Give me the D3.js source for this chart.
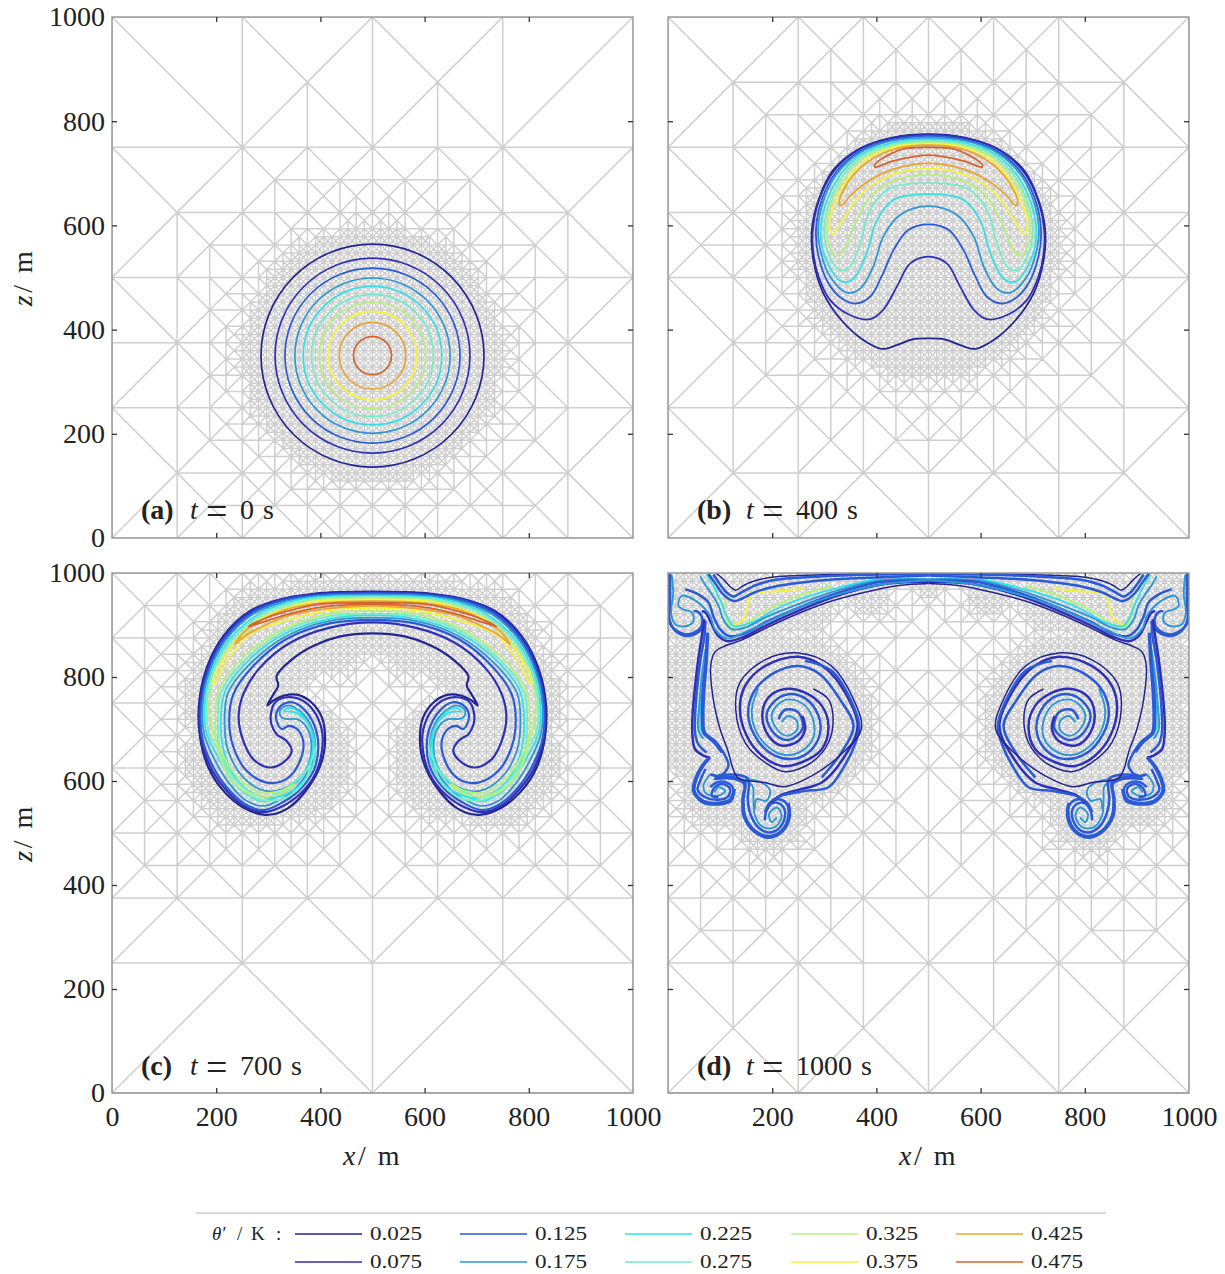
<!DOCTYPE html>
<html>
<head>
<meta charset="utf-8">
<script src="https://cdnjs.cloudflare.com/ajax/libs/d3/7.8.5/d3.min.js"></script>
<style>
  body { margin: 0; background: #fff; }
  text { font-family: "Liberation Serif", serif; fill: #222; }
</style>
</head>
<body>
<svg id="fig" width="1225" height="1274"></svg>
<script>
// contour levels and colours
const levels = [0.025, 0.075, 0.125, 0.175, 0.225, 0.275, 0.325, 0.375, 0.425, 0.475];
const levelColors = ["#24248f", "#2f2fb8", "#2a5ad6", "#2c96d6", "#34e0e6", "#74eec8", "#b6f07c", "#f4f43c", "#eaa432", "#d4642f"];

const xTicks = [0, 200, 400, 600, 800, 1000];
const zTicks = [0, 200, 400, 600, 800, 1000];
const panelTitles = [["(a)", "0"], ["(b)", "400"], ["(c)", "700"], ["(d)", "1000"]];

// (a) t = 0: circles round one centre
const centreA = [500, 350];
const radiiA = [214, 187, 168, 149, 133, 117, 102, 85, 64, 36.5];

// (b) t = 400: left halves, mirrored about x = 500
const b025 = [[500,775],[433,769],[369,748],[317,706],[289,649],[276,591],[279,534],[298,470],[333,418],[375,380],[410,363],[439,370],[468,381],[500,383]];
const b075 = [[500,774],[433,768],[369,747],[319,705],[290,649],[278,591],[279,546],[289,502],[311,457],[349,428],[388,420],[413,438],[439,482],[465,527],[500,540]];
const b125 = [[500,772],[433,765],[369,743],[323,703],[295,649],[284,591],[289,540],[308,489],[333,460],[359,450],[388,463],[410,502],[433,553],[461,591],[500,602]];
const b175 = [[500,768],[433,763],[369,740],[325,700],[298,646],[288,591],[294,546],[311,502],[343,471],[369,479],[394,521],[413,578],[445,620],[500,637]];
const b225 = [[500,765],[433,759],[372,737],[329,695],[303,642],[293,591],[301,540],[333,492],[356,498],[381,546],[401,610],[433,649],[500,660]];
const b275 = [[500,762],[433,756],[375,734],[333,692],[308,639],[300,591],[308,546],[330,514],[349,521],[369,566],[388,630],[426,671],[500,681]];
const b325 = [[500,759],[433,752],[378,731],[337,688],[311,636],[305,591],[311,556],[324,541],[338,553],[359,604],[391,658],[439,688],[500,697]];
const b375 = [[500,757],[433,750],[381,727],[342,684],[317,633],[310,604],[316,583],[337,613],[369,658],[413,690],[458,705],[500,709]];
const b425 = [[500,754],[433,746],[388,725],[356,697],[335,665],[329,645],[332,638],[353,660],[388,687],[433,708],[500,719]];
const b475 = [[500,750],[452,747],[423,735],[397,717],[397,712],[433,724],[500,735]];

// (c) t = 700: left halves, mirrored about x = 500
const c025 = [[500,964],[387,960],[322,949],[265,927],[214,879],[182,818],[167,748],[169,684],[185,626],[214,581],[252,549],[294,535],[335,546],[377,588],[403,639],[409,684],[403,722],[383,751],[355,766],[329,764],[310,755],[298,745],[310,767],[319,783],[316,802],[342,831],[387,860],[438,878],[500,884]];
const c075 = [[500,905],[418,895],[342,866],[284,818],[252,767],[243,722],[252,677],[271,642],[303,626],[329,636],[345,658],[335,677],[316,690],[306,709],[305,729],[313,751],[335,761],[361,757],[387,735],[403,697],[403,658],[390,613],[361,575],[322,549],[290,540],[252,553],[217,585],[188,629],[171,684],[169,748],[184,817],[215,878],[266,926],[322,948],[387,959],[500,963]];
const c125 = [[500,910],[418,903],[335,873],[271,821],[233,767],[225,716],[233,665],[258,620],[297,597],[335,604],[361,639],[367,677],[355,700],[339,706],[326,700],[316,716],[316,732],[329,748],[348,751],[371,735],[390,703],[396,665],[387,620],[358,581],[322,556],[290,544],[255,556],[220,588],[191,633],[173,684],[171,748],[186,815],[218,876],[268,923],[322,946],[387,957],[500,961]];
const c175 = [[500,914],[418,908],[335,879],[268,828],[223,770],[216,716],[223,658],[252,607],[294,581],[335,588],[371,620],[383,665],[374,703],[355,719],[339,719],[326,722],[322,735],[335,745],[351,741],[377,716],[390,671],[380,626],[351,585],[319,562],[290,552],[258,562],[226,594],[198,639],[177,690],[174,748],[188,813],[220,873],[271,921],[326,943],[387,955],[500,959]];
const c225 = [[500,919],[418,912],[335,885],[262,832],[217,773],[209,716],[216,652],[244,597],[290,569],[335,575],[374,607],[390,658],[377,709],[351,732],[330,734],[337,740],[355,736],[380,703],[385,658],[372,620],[345,588],[316,569],[290,561],[262,572],[230,601],[204,645],[182,690],[178,748],[191,810],[223,869],[275,917],[326,940],[387,953],[500,956]];
const c275 = [[500,922],[418,917],[335,890],[259,836],[210,773],[203,716],[210,649],[239,591],[290,563],[335,569],[371,601],[383,639],[392,665],[377,626],[345,594],[316,575],[290,569],[265,578],[233,607],[209,652],[187,690],[182,748],[194,808],[226,866],[278,914],[329,937],[387,950],[500,954]];
const c325 = [[500,927],[418,922],[335,895],[255,841],[206,776],[198,716],[206,649],[236,594],[281,572],[322,574],[351,594],[322,581],[284,578],[239,610],[210,655],[193,697],[186,748],[198,805],[230,863],[281,911],[332,933],[387,947],[500,951]];
const c375 = [[500,949],[387,945],[335,931],[284,910],[233,862],[201,812],[193,789],[198,789],[217,825],[265,882],[335,909],[418,928],[500,933]];
const c425 = [[500,946],[399,942],[335,930],[284,908],[252,885],[236,863],[255,879],[297,901],[342,919],[418,932],[500,937]];
const c475 = [[500,943],[399,940],[335,926],[290,911],[262,897],[297,908],[342,922],[406,935],[500,940]];

// (d) t = 1000: open pieces on the left, mirrored about x = 500; [level index, points]
const d025 = [[500,980],[442,976],[378,963],[314,946],[250,922],[186,893],[141,871],[110,860],[90,848],[82,821],[87,757],[100,700],[116,655],[125,623],[136,605],[186,597],[222,589],[276,610],[333,652],[371,700],[356,757],[314,821],[250,846],[186,833],[138,789],[130,738],[148,674],[186,636],[225,618],[276,636],[308,674],[317,719],[308,757],[279,777]];
const d075 = [[258,725],[263,700],[250,677],[218,668],[193,687],[181,725],[193,761],[225,777],[263,770],[295,745],[308,706],[295,661],[257,636],[218,629],[180,649],[151,687],[138,738],[148,783],[186,821],[250,839],[301,818],[340,770],[364,706],[340,649],[295,597],[250,583],[215,572],[199,559]];
const d125 = [[212,719],[225,737],[250,732],[258,700],[231,679],[205,690],[189,725],[205,754],[231,767],[266,757],[289,725],[292,693],[276,661],[244,643],[205,649],[173,677],[154,725],[164,770],[199,805],[250,821],[292,805],[330,757],[356,706],[333,655],[295,607]];
const d175 = [[218,713],[231,725],[247,716],[247,697],[228,687],[209,700],[199,725],[212,748],[234,757],[263,745],[279,716],[279,684],[257,658],[225,650],[193,665],[167,700],[161,738],[173,777]];
const dRing = [[199,562],[218,572],[263,581],[308,588],[337,626],[360,674],[367,706],[353,751],[314,812],[263,831]];
const dHeadOuter = [[2,999],[2,949],[1,908],[14,891],[39,882],[61,893],[66,911],[58,925],[49,927]];
const dHeadEdge = [[4,999],[4,949],[3,910],[15,888],[39,879],[63,890],[69,911]];
const dHeadInner = [[7,997],[10,959],[6,924],[14,901],[36,898],[49,908],[46,924],[29,930],[20,937],[26,956],[58,943],[81,917],[90,892],[113,874],[154,889],[250,933],[327,959],[410,978],[500,986]];
const dPlume075 = [[500,983],[410,978],[327,957],[250,927],[186,898],[145,877],[113,869],[94,882],[81,908],[72,924],[65,927]];
const dPlume125 = [[500,985],[410,983],[327,962],[250,933],[186,905],[145,883],[116,879],[100,892],[87,917],[78,943],[58,959],[33,969]];
const dPlume175 = [[500,988],[410,986],[327,967],[250,940],[186,914],[148,895],[122,892],[106,911],[97,937],[84,959],[71,978],[62,994]];
const dPlume225 = [[410,990],[327,972],[263,953],[212,933],[161,905],[126,898],[113,917],[100,949],[87,975],[74,997]];
const dPlume325 = [[314,975],[250,956],[186,927],[148,901],[122,895],[110,921],[110,949],[90,981]];
const dPlume375 = [[260,970],[212,965],[161,959],[153,937],[145,911],[122,899]];
const dUpper025 = [[410,999],[308,997],[199,992],[167,985],[145,976],[130,967],[119,974],[106,988],[93,999]];
const dUpper075 = [[500,998],[410,997],[308,994],[206,987],[167,976],[138,961],[126,955],[113,962],[100,978],[87,997]];
const dUpper125 = [[500,995],[410,992],[308,987],[206,974],[167,963],[138,949],[126,946],[106,959],[90,981],[77,999]];
const dStemA = [[70,911],[66,885],[58,834],[52,783],[47,725],[47,687],[52,661],[68,649],[81,645]];
const dStemB = [[72,908],[70,879],[62,831],[56,780],[52,725],[52,693],[58,671],[74,655]];
const dStemC = [[77,885],[74,828],[70,777],[68,725],[71,693],[90,677],[106,655],[116,629],[100,610],[81,613]];
const dStemD = [[72,853],[65,802],[60,745],[58,700],[68,681]];
const dStemE = [[74,868],[68,805],[63,745],[61,705],[72,686]];
const dStemF = [[75,885],[72,828],[67,777],[65,725],[68,693],[87,675],[103,655]];
const dFootA = [[81,645],[68,629],[55,604],[51,581],[68,562],[97,558],[119,565],[125,585],[113,597],[93,597],[81,588]];
const dFootB = [[72,623],[62,601],[57,583],[71,569],[97,564],[115,570],[119,585],[106,594],[90,588],[84,572],[97,569]];
const dFootC = [[81,613],[68,591],[74,575],[97,572],[110,581],[97,588],[89,578]];
const dFootD = [[78,645],[64,628],[52,604],[48,581],[66,559],[97,555],[121,562],[128,585]];
const dToeA = [[90,607],[129,607],[148,597],[145,565],[148,533],[167,505],[193,494],[218,505],[231,533],[228,556],[212,565],[196,559],[186,540]];
const dToeB = [[97,611],[132,612],[154,604],[153,565],[158,537],[173,511],[193,501],[215,511],[225,537],[218,554],[202,558],[189,543],[186,524]];
const dToeC = [[141,601],[162,591],[164,565],[167,533],[183,511],[205,511],[218,533],[209,549],[194,536],[199,521],[209,530]];
const dToeD = [[148,604],[180,597],[196,581],[189,562],[170,565],[167,546]];
const dToeE = [[88,604],[127,604],[146,595],[143,565],[145,533],[165,503],[193,491],[220,503],[234,533],[231,558]];
const dLines = [
  [7, dPlume375], [6, dPlume325], [4, dPlume225], [3, dPlume175], [2, dPlume125], [1, dPlume075],
  [3, dHeadInner], [2, dHeadEdge], [2, dHeadOuter], [0, dUpper025], [2, dUpper075], [2, dUpper125],
  [4, dStemE], [3, dStemD], [2, dStemF], [2, dStemC], [2, dStemB], [1, dStemA],
  [3, dFootC], [2, dFootB], [2, dFootD], [2, dFootA], [3, dToeC], [3, dToeD], [2, dToeB], [2, dToeE], [2, dToeA],
  [3, d175], [2, d125], [1, d075], [2, dRing], [0, d025]
];

// where the mesh is at its finest in each panel: centre x, centre z, radius
// (the negative radius in D only pulls a little refinement into the lower corners)
const blobsA = [[500,350,238]];
const blobsB = [[500,555,240]];
const blobsC = [[270,640,120],[340,640,110],[230,760,85],[300,860,100],[400,900,85],[500,920,70]];
const blobsD = [[60,930,70],[150,920,70],[260,950,55],[380,970,40],[500,990,25],[70,800,75],[70,680,80],[225,715,160],[100,585,65],[190,540,65],[130,300,-90]];
// distance from the fine zone -> allowed longest edge
const gradeDist = [-5, 5, 12, 20, 35, 90, 116, 117, 226, 370, 430];
const gradeEdge = [15.7, 22.2, 31.3, 44.2, 62.5, 88.4, 125, 177, 250, 354, 500];

const panelLeft = [112, 668, 112, 668];
const panelTop = [17, 17, 573, 573];
const panelSize = 521;

const svg = d3.select("#fig");
const edgeScale = d3.scaleLinear().domain(gradeDist).range(gradeEdge).clamp(true);

function mid(p, q) { return [(p[0] + q[0]) / 2, (p[1] + q[1]) / 2]; }
function key(p) { return p[0] + "," + p[1]; }

// newest vertex bisection on the 500 m squares, kept conforming with a set of split edges
function buildMesh(blobs) {
  let tris = [];
  [0, 500].forEach(function(x) {
    [0, 500].forEach(function(z) {
      const c = [x + 250, z + 250];
      const q = [[x, z], [x + 500, z], [x + 500, z + 500], [x, z + 500]];
      q.forEach(function(p, i) { tris.push({ a: p, b: q[(i + 1) % 4], c: c }); });
    });
  });
  const split = new Set();
  let changed = true;
  while (changed) {
    changed = false;
    const next = [];
    tris.forEach(function(t) {
      const m = mid(t.a, t.b);
      const hyp = Math.hypot(t.a[0] - t.b[0], t.a[1] - t.b[1]);
      const cx = (t.a[0] + t.b[0] + t.c[0]) / 3, cz = (t.a[1] + t.b[1] + t.c[1]) / 3;
      const dist = d3.min(blobs, function(b) { return Math.hypot(cx - b[0], cz - b[1]) - b[2]; });
      const want = hyp > edgeScale(dist) + 0.5;
      if (want || split.has(key(m)) || split.has(key(mid(t.a, t.c))) || split.has(key(mid(t.b, t.c)))) {
        split.add(key(m));
        next.push({ a: t.c, b: t.a, c: m }, { a: t.b, b: t.c, c: m });
        changed = true;
      } else {
        next.push(t);
      }
    });
    tris = next;
  }
  return tris;
}

function withMirror(blobs) {
  return blobs.concat(blobs.map(function(b) { return [1000 - b[0], b[1], b[2]]; }));
}
function mirror(pts) { return pts.map(function(p) { return [1000 - p[0], p[1]]; }); }

const allBlobs = [blobsA, blobsB, withMirror(blobsC), withMirror(blobsD)];
const closedB = [b025, b075, b125, b175, b225, b275, b325, b375, b425, b475];
const closedC = [c025, c075, c125, c175, c225, c275, c325, c375, c425, c475];

panelTitles.forEach(function(title, i) {
  const x = d3.scaleLinear().domain([0, 1000]).range([panelLeft[i], panelLeft[i] + panelSize]);
  const y = d3.scaleLinear().domain([0, 1000]).range([panelTop[i] + panelSize - (i > 1 ? 1 : 0), panelTop[i]]);

  svg.append("clipPath").attr("id", "clip" + i).append("rect")
    .attr("x", panelLeft[i]).attr("y", panelTop[i])
    .attr("width", panelSize).attr("height", panelSize);
  const g = svg.append("g").attr("clip-path", "url(#clip" + i + ")");

  // mesh
  const seen = new Set();
  const meshPath = d3.path();
  buildMesh(allBlobs[i]).forEach(function(t) {
    [[t.a, t.b], [t.b, t.c], [t.c, t.a]].forEach(function(e) {
      const k = [key(e[0]), key(e[1])].sort().join("|");
      if (seen.has(k)) return;
      seen.add(k);
      meshPath.moveTo(x(e[0][0]), y(e[0][1]));
      meshPath.lineTo(x(e[1][0]), y(e[1][1]));
    });
  });
  g.append("path").attr("d", meshPath.toString())
    .attr("fill", "none").attr("stroke", "#cfcfcf").attr("stroke-width", 1.5);

  // contours
  const line = d3.line().x(function(p) { return x(p[0]); }).y(function(p) { return y(p[1]); })
    .curve(d3.curveCatmullRom.alpha(0.5));
  const closedLine = d3.line().x(function(p) { return x(p[0]); }).y(function(p) { return y(p[1]); })
    .curve(d3.curveCatmullRomClosed.alpha(0.5));

  if (i === 0) {
    g.selectAll("circle").data(radiiA).enter().append("circle")
      .attr("cx", x(centreA[0])).attr("cy", y(centreA[1]))
      .attr("r", function(r) { return x(r) - x(0); })
      .attr("fill", "none").attr("stroke-width", 1.7)
      .attr("stroke", function(r, k) { return levelColors[k]; });
  } else if (i === 3) {
    dLines.forEach(function(d) {
      [d[1], mirror(d[1])].forEach(function(pts) {
        g.append("path").attr("d", line(pts)).attr("fill", "none")
          .attr("stroke", levelColors[d[0]]).attr("stroke-width", d[0] === 0 ? 1.5 : d[0] < 3 ? 2.5 : 1.9);
      });
    });
  } else {
    (i === 1 ? closedB : closedC).forEach(function(half, k) {
      const full = half.concat(mirror(half).reverse().slice(1, -1));
      g.append("path").attr("d", closedLine(full)).attr("fill", "none")
        .attr("stroke", levelColors[k]).attr("stroke-width", i === 2 && k < 3 ? 2.2 : 1.8);
    });
  }

  // frame and ticks
  svg.append("rect").attr("x", panelLeft[i]).attr("y", panelTop[i])
    .attr("width", panelSize).attr("height", y(0) - panelTop[i])
    .attr("fill", "none").attr("stroke", "#959595").attr("stroke-width", 1.4);

  const showZ = i % 2 === 0, showX = i > 1;
  const plain = d3.format("d");
  const bottom = d3.axisBottom(x).tickValues(i === 3 ? xTicks.slice(1) : xTicks).tickSize(-5).tickPadding(13)
    .tickFormat(showX ? plain : "");
  const left = d3.axisLeft(y).tickValues(zTicks).tickSize(-5).tickPadding(7)
    .tickFormat(showZ ? plain : "");
  const top = d3.axisTop(x).tickValues(xTicks).tickSize(-5).tickFormat("");
  const right = d3.axisRight(y).tickValues(zTicks).tickSize(-5).tickFormat("");

  [[bottom, 0, y(0)], [left, panelLeft[i], 0], [top, 0, panelTop[i]], [right, panelLeft[i] + panelSize, 0]].forEach(function(a) {
    const ax = svg.append("g").attr("transform", "translate(" + a[1] + "," + a[2] + ")").call(a[0]);
    ax.select(".domain").remove();
    ax.selectAll("line").attr("stroke", "#333").attr("stroke-width", 1.3);
    ax.selectAll("text").attr("font-size", 28).attr("fill", "#222").style("font-family", '"Liberation Serif", serif');
    // the outermost ticks sit on the frame
    ax.selectAll(".tick").filter(function(v) { return v === 0 || v === 1000; }).select("line").remove();
  });

  // panel caption
  const cap = svg.append("text").attr("x", panelLeft[i] + 29).attr("y", panelTop[i] + 502)
    .attr("font-size", 28);
  cap.append("tspan").attr("font-weight", "bold").text(title[0]);
  cap.append("tspan").attr("x", panelLeft[i] + 78).attr("font-style", "italic").text("t");
  cap.append("tspan").attr("x", panelLeft[i] + 94).attr("font-size", 38).attr("dy", 5).text("=");
  cap.append("tspan").attr("x", panelLeft[i] + 128).attr("dy", -5).text(title[1]);
  cap.append("tspan").attr("dx", 9).text("s");

  // axis names
  if (showX) {
    const t = svg.append("text").attr("x", x(500)).attr("y", 1165).attr("text-anchor", "middle")
      .attr("font-size", 28).attr("letter-spacing", 2.5);
    t.append("tspan").attr("font-style", "italic").text("x");
    t.append("tspan").text("/ m");
  }
  if (showZ) {
    const t = svg.append("text").attr("transform", "translate(32," + y(500) + ") rotate(-90)")
      .attr("text-anchor", "middle").attr("font-size", 28).attr("letter-spacing", 2.5);
    t.append("tspan").attr("font-style", "italic").text("z");
    t.append("tspan").text("/ m");
  }
});

// legend
const legendRows = [1234, 1262];
const legendCols = [295, 460, 625, 791, 956];
svg.append("line").attr("x1", 196).attr("x2", 1106).attr("y1", 1213).attr("y2", 1213)
  .attr("stroke", "#b4b4b4").attr("stroke-width", 1.2);
const legTitle = svg.append("text").attr("y", 1240).attr("font-size", 19);
legTitle.append("tspan").attr("x", 212).attr("font-style", "italic").text("\u03b8\u2032");
legTitle.append("tspan").attr("x", 237).text("/");
legTitle.append("tspan").attr("x", 251).text("K");
legTitle.append("tspan").attr("x", 276).text(":");

levels.forEach(function(v, k) {
  const cx = legendCols[Math.floor(k / 2)], cy = legendRows[k % 2];
  svg.append("line").attr("x1", cx).attr("x2", cx + 67).attr("y1", cy).attr("y2", cy)
    .attr("stroke", levelColors[k]).attr("stroke-width", 1.6);
  svg.append("text").attr("x", cx + 75).attr("y", cy + 6).attr("font-size", 18)
    .attr("textLength", 52).attr("lengthAdjust", "spacingAndGlyphs")
    .text(d3.format(".3f")(v));
});
</script>
</body>
</html>
